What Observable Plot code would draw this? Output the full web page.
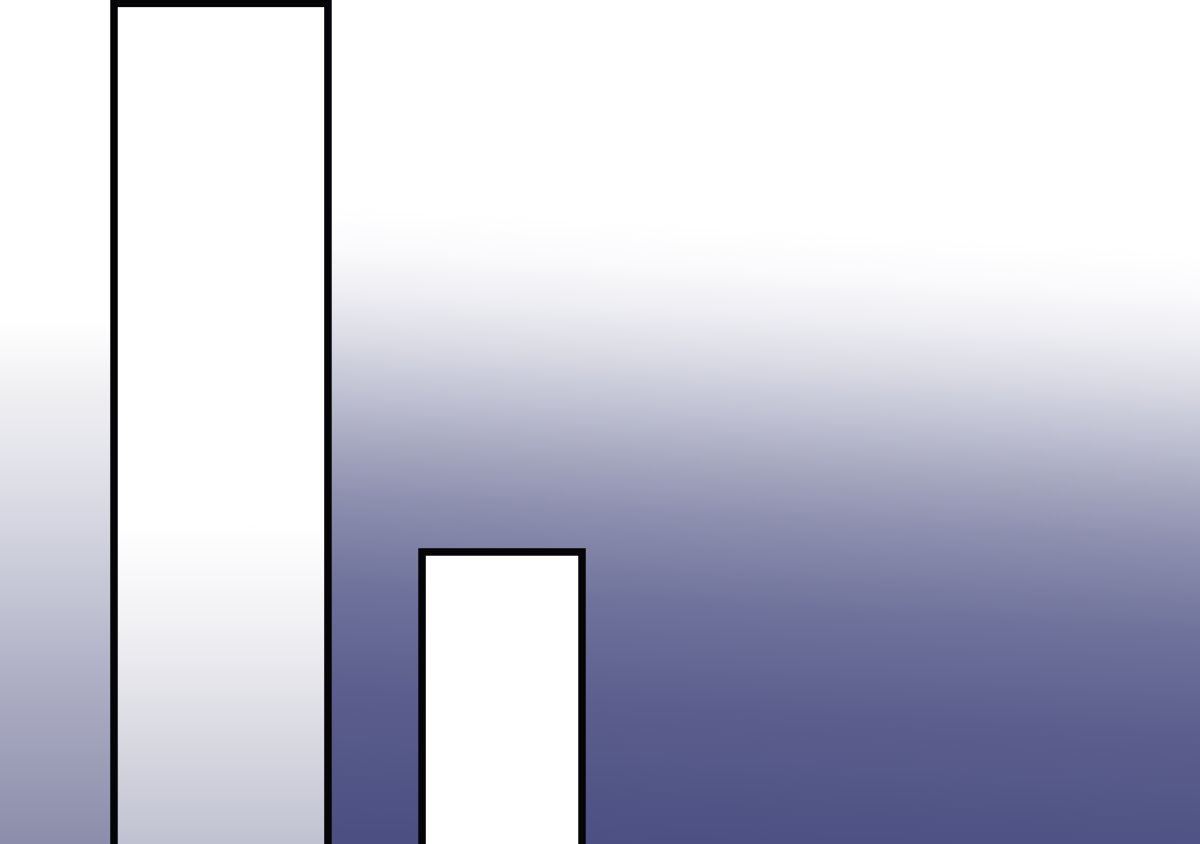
<!DOCTYPE html>
<html>
<head>
<meta charset="utf-8">
<script src="https://cdn.jsdelivr.net/npm/d3@7"></script>
<script src="https://cdn.jsdelivr.net/npm/@observablehq/plot@0.6"></script>
<style>
  html, body { margin: 0; padding: 0; background: #ffffff; overflow: hidden; }
  #chart svg { display: block; }
</style>
</head>
<body>
<div id="chart"></div>
<script>
// Data
const categories = ["A", "B"];
const barStart = [9.5, 35.17];
const barEnd = [27.33, 48.5];
const barValue = [99.6, 34.6];
const barFill = ["url(#barGradA)", "#ffffff"];

const bars = categories.map((c, i) => ({
  category: c, x1: barStart[i], x2: barEnd[i], value: barValue[i], fill: barFill[i]
}));

const NS = "http://www.w3.org/2000/svg";
function el(tag, attrs, children = []) {
  const e = document.createElementNS(NS, tag);
  for (const [k, v] of Object.entries(attrs)) e.setAttribute(k, v);
  for (const ch of children) e.appendChild(ch);
  return e;
}
function grad(id, stops, attrs) {
  return el("linearGradient", {id, ...attrs},
    stops.map(([o, c, a = 1]) => el("stop", {offset: o, "stop-color": c, "stop-opacity": a})));
}

const background = (index, scales, values, dims) => {
  const W = dims.width, H = dims.height;
  const leftEdge = scales.x(barStart[0]);
  const g = el("g", {});
  g.appendChild(el("defs", {}, [
    grad("bgGrad", [
      ["0%", "#ffffff"], ["26%", "#ffffff"], ["31%", "#fafafc"], ["36%", "#eeeef3"], ["42%", "#d9dae4"],
      ["48%", "#c0c1d2"], ["54%", "#a6a8c0"], ["60%", "#8f91b0"], ["71%", "#6f729b"],
      ["83%", "#5c5f8d"], ["100%", "#4b4f82"]
    ], {gradientUnits: "userSpaceOnUse", x1: W / 2, y1: 0, x2: W / 2 - 45, y2: H}),
    grad("leftGrad", [
      ["0%", "#ffffff"], ["38%", "#ffffff"], ["46%", "#f0f0f3"], ["55%", "#e2e2ea"],
      ["66%", "#cdcedb"], ["78%", "#b3b4c8"], ["90%", "#9d9eb8"], ["100%", "#8c8daa"]
    ], {x1: 0, y1: 0, x2: 0, y2: 1}),
    grad("barGradA", [
      ["0%", "#ffffff"], ["60%", "#ffffff"], ["71%", "#f2f2f5"], ["83%", "#dcdce4"],
      ["95%", "#c5c6d4"], ["100%", "#b9bacb"]
    ], {x1: 0, y1: 0, x2: 0, y2: 1})
  ]));
  g.appendChild(el("rect", {x: 0, y: 0, width: W, height: H, fill: "url(#bgGrad)"}));
  g.appendChild(el("rect", {x: 0, y: 0, width: leftEdge, height: H, fill: "url(#leftGrad)"}));
  return g;
};

const chart = Plot.plot({
  width: 1200,
  height: 844,
  margin: 0,
  x: {domain: [0, 100], axis: null},
  y: {domain: [0, 100], axis: null},
  style: {background: "#ffffff"},
  marks: [
    background,
    Plot.rectY(bars, {
      x1: "x1", x2: "x2", y1: -3, y2: "value",
      fill: (d) => d.fill,
      stroke: "#050508",
      strokeWidth: 7.5,
      clip: true
    })
  ]
});
document.getElementById("chart").appendChild(chart);
</script>
</body>
</html>
